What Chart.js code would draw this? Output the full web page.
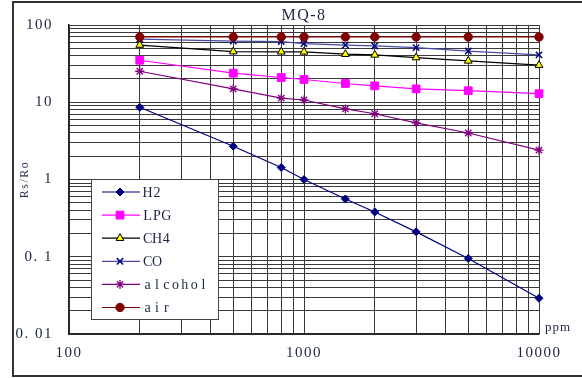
<!DOCTYPE html>
<html>
<head>
<meta charset="utf-8">
<script src="https://cdn.jsdelivr.net/npm/chart.js@4.4.0/dist/chart.umd.min.js"></script>
<style>
    html, body { margin: 0; padding: 0; background: #fff; }
    #wrap { width: 582px; height: 378px; }
</style>
</head>
<body>
<div id="wrap"><canvas id="mq8Chart"></canvas></div>
<script>
// concentration (ppm) and Rs/Ro
const ppm = [200, 500, 800, 1000, 1500, 2000, 3000, 5000, 10000];
const h2 = [8.6, 2.7, 1.43, 1.0, 0.56, 0.38, 0.21, 0.095, 0.029];
const lpg = [35, 23.8, 20.9, 19.7, 17.5, 16.3, 14.9, 14.1, 12.9];
const ch4 = [55, 45.3, 45, 44.9, 41.9, 41, 37.9, 34.3, 30.2];
const co = [65.5, 62, 61, 57.4, 55, 53.6, 51, 46, 41];
const alcohol = [25.2, 14.9, 11.3, 10.7, 8.2, 7.1, 5.4, 4.0, 2.4];
const air = [70, 70, 70, 70, 70, 70, 70, 70, 70];

const xTickValues = [100, 1000, 10000];
const xTickText = ["100", "1000", "10000"];
const yTickValues = [0.01, 0.1, 1, 10, 100];
const yTickText = ["0. 01", "0. 1", "1", "10", "100"];

const textColor = "#1b2540";
const serif = "'Liberation Serif', 'DejaVu Serif', serif";

function logGrid(min, max) {
    let out = [];
    for (let d = min; d < max * 1.001; d *= 10) {
        for (let k = 1; k <= 9; k++) {
            let v = parseFloat((k * d).toPrecision(6));
            if (v <= max * 1.0001) out.push({ value: v });
        }
    }
    return out;
}

function labelFor(values, texts) {
    return function (value) {
        let i = values.findIndex(v => Math.abs(v - value) / v < 1e-6);
        return i >= 0 ? texts[i] : "";
    };
}

function series(values) {
    return values.map((v, i) => ({ x: ppm[i], y: v }));
}

function drawSpaced(ctx, text, x, y, cell) {
    for (let i = 0; i < text.length; i++) {
        let w = ctx.measureText(text[i]).width;
        ctx.fillText(text[i], x + i * cell + (cell - w) / 2, y);
    }
}

const framePlugin = {
    id: "frame",
    beforeDraw(chart) {
        let ctx = chart.ctx;
        ctx.letterSpacing = "1.5px";
        ctx.save();
        ctx.strokeStyle = "#333";
        ctx.lineWidth = 2;
        ctx.beginPath();
        ctx.moveTo(582, 2);
        ctx.lineTo(13, 2);
        ctx.lineTo(13, 376);
        ctx.lineTo(582, 376);
        ctx.stroke();
        ctx.restore();
    },
    afterDatasetsDraw(chart) {
        let ctx = chart.ctx;
        ctx.save();
        // legend box inside the plot
        ctx.fillStyle = "#fff";
        ctx.fillRect(91, 179, 127, 140);
        ctx.strokeStyle = "#444";
        ctx.lineWidth = 1;
        ctx.strokeRect(91.5, 179.5, 127, 140);
        ctx.letterSpacing = "0px";
        ctx.font = "14px " + serif;
        ctx.textBaseline = "middle";
        chart.data.datasets.forEach((ds, i) => {
            let y = 192 + i * 23.1;
            ctx.strokeStyle = ds.borderColor;
            ctx.lineWidth = ds.borderWidth;
            ctx.beginPath();
            ctx.moveTo(102, y);
            ctx.lineTo(140, y);
            ctx.stroke();
            ctx.fillStyle = ds.pointBackgroundColor;
            ctx.strokeStyle = ds.pointBorderColor;
            ctx.lineWidth = ds.pointBorderWidth;
            if (Chart.helpers && Chart.helpers.drawPoint) {
                Chart.helpers.drawPoint(ctx, {
                    pointStyle: ds.pointStyle,
                    radius: ds.pointRadius,
                    rotation: 0,
                    borderWidth: ds.pointBorderWidth
                }, 120, y);
            } else {
                ctx.beginPath();
                ctx.arc(120, y, ds.pointRadius, 0, Math.PI * 2);
                ctx.fill();
                ctx.stroke();
            }
            ctx.fillStyle = textColor;
            drawSpaced(ctx, ds.label, 143, y + 1, 9.3);
        });
        // unit label at the end of the x axis
        ctx.letterSpacing = "1px";
        ctx.font = "13px " + serif;
        ctx.fillStyle = textColor;
        ctx.textAlign = "left";
        ctx.fillText("ppm", 545, 328);
        ctx.restore();
    }
};

let ctx = document.getElementById("mq8Chart").getContext("2d");
new Chart(ctx, {
    type: "line",
    data: {
        datasets: [
            {
                label: "H2", data: series(h2),
                borderColor: "#000080", borderWidth: 1.2,
                pointStyle: "rectRot", pointRadius: 4,
                pointBackgroundColor: "#000080", pointBorderColor: "#000080", pointBorderWidth: 1,
                order: 1
            },
            {
                label: "LPG", data: series(lpg),
                borderColor: "#ff00ff", borderWidth: 1.2,
                pointStyle: "rect", pointRadius: 5.5,
                pointBackgroundColor: "#ff00ff", pointBorderColor: "#ff00ff", pointBorderWidth: 1,
                order: 1
            },
            {
                label: "CH4", data: series(ch4),
                borderColor: "#000000", borderWidth: 1.2,
                pointStyle: "triangle", pointRadius: 4.5,
                pointBackgroundColor: "#ffff00", pointBorderColor: "#000000", pointBorderWidth: 1,
                order: 1
            },
            {
                label: "CO", data: series(co),
                borderColor: "#4848a8", borderWidth: 1.2,
                pointStyle: "crossRot", pointRadius: 4.5,
                pointBackgroundColor: "#000080", pointBorderColor: "#000080", pointBorderWidth: 1.5,
                order: 1
            },
            {
                label: "alcohol", data: series(alcohol),
                borderColor: "#800080", borderWidth: 1.2,
                pointStyle: "star", pointRadius: 4.5,
                pointBackgroundColor: "#800080", pointBorderColor: "#800080", pointBorderWidth: 1.3,
                order: 1
            },
            {
                label: "air", data: series(air),
                borderColor: "#800000", borderWidth: 1.2,
                pointStyle: "circle", pointRadius: 4.2,
                pointBackgroundColor: "#800000", pointBorderColor: "#800000", pointBorderWidth: 1,
                order: 0
            }
        ]
    },
    options: {
        responsive: true,
        maintainAspectRatio: false,
        animation: false,
        clip: false,
        layout: { padding: { top: 0, right: 43, bottom: 0, left: 0 } },
        elements: { line: { tension: 0, fill: false } },
        datasets: { line: { clip: false } },
        scales: {
            x: {
                type: "logarithmic",
                min: 100,
                max: 10000,
                afterBuildTicks: scale => { scale.ticks = logGrid(100, 10000); },
                afterFit: scale => { scale.height = 44; },
                grid: { color: "#3a3a3a", lineWidth: 1, drawTicks: false },
                border: { color: "#222", width: 1.5 },
                ticks: {
                    autoSkip: false,
                    maxRotation: 0,
                    padding: 10,
                    color: textColor,
                    font: { family: serif, size: 15 },
                    callback: labelFor(xTickValues, xTickText)
                }
            },
            y: {
                type: "logarithmic",
                min: 0.01,
                max: 100,
                afterBuildTicks: scale => { scale.ticks = logGrid(0.01, 100); },
                afterFit: scale => { scale.width = 69; },
                grid: { color: "#3a3a3a", lineWidth: 1, drawTicks: false },
                border: { color: "#222", width: 1.5 },
                title: {
                    display: true,
                    text: "Rs/Ro",
                    color: "#2a3552",
                    font: { family: serif, size: 12 },
                    padding: { top: 18, bottom: 0 }
                },
                ticks: {
                    autoSkip: false,
                    padding: 16,
                    color: textColor,
                    font: { family: serif, size: 15 },
                    callback: labelFor(yTickValues, yTickText)
                }
            }
        },
        plugins: {
            legend: { display: false },
            tooltip: { enabled: false },
            title: {
                display: true,
                text: "MQ-8",
                fullSize: false,
                color: textColor,
                font: { family: serif, size: 16, weight: "normal" },
                padding: { top: 4, bottom: 0 }
            }
        }
    },
    plugins: [framePlugin]
});
</script>
</body>
</html>
